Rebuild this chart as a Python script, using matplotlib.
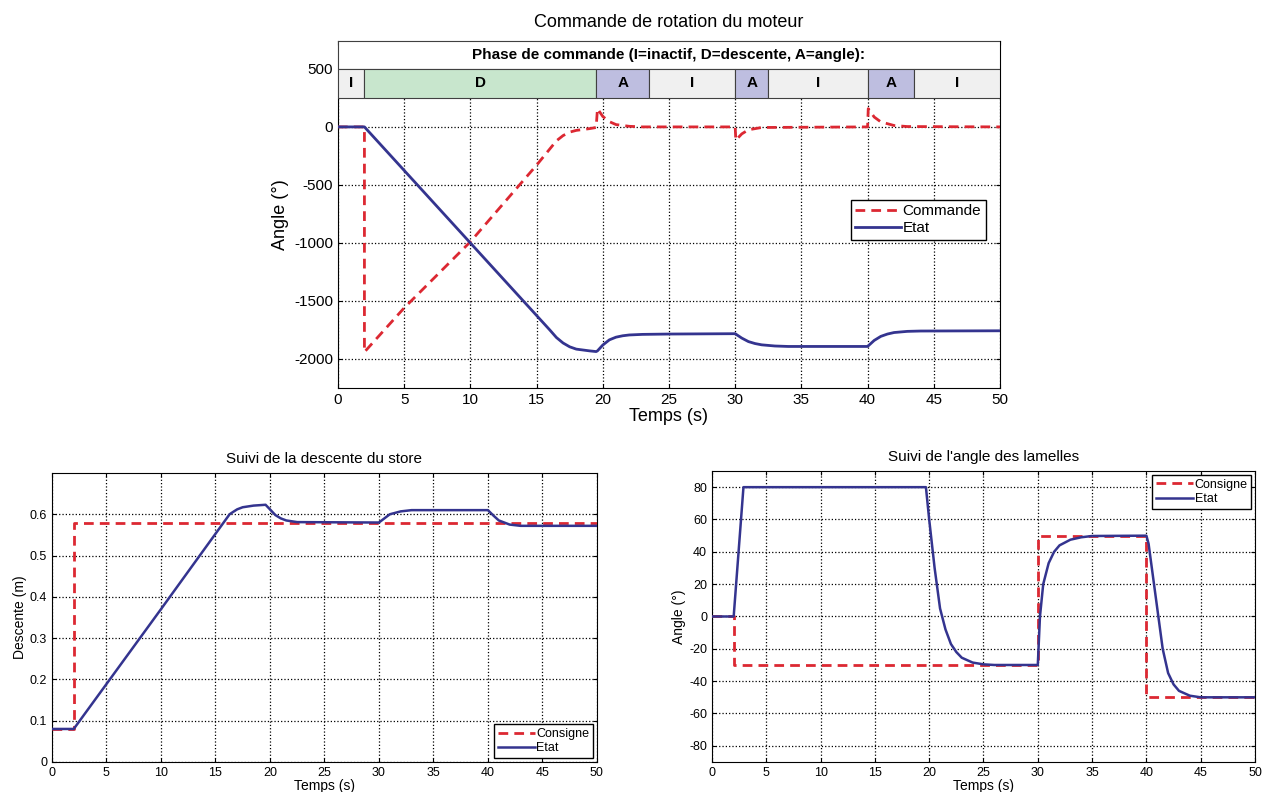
import matplotlib.pyplot as plt
from matplotlib.patches import Rectangle

plt.rcParams['font.family'] = ['Liberation Sans', 'DejaVu Sans']
plt.rcParams['axes.unicode_minus'] = False

# ---- data: motor rotation (top)
t_cmd = [0, 2, 2.0, 5, 10, 15, 16, 16.5, 17, 17.5, 18, 19, 19.5, 19.6, 20, 20.5, 21, 22, 23, 30, 30.05, 30.5, 31,
         32, 40, 40.05, 40.5, 41, 42, 43, 50]
cmd = [0, 0, -1940, -1560, -990, -330, -190, -120, -75, -45, -30, -15, -5, 157, 90, 45, 20, 5, 0, 0, -114, -60, -25,
       -5, 0, 157, 85, 43, 12, 3, 0]
t_etat = [0, 2, 10, 15, 16, 16.5, 17, 17.5, 18, 19, 19.5, 19.6, 20, 20.5, 21, 21.5, 22, 23, 25, 30, 30.5, 31, 31.5,
          32, 33, 34, 40, 40.5, 41, 41.5, 42, 43, 44, 50]
etat = [0, 0, -1000, -1625, -1750, -1815, -1862, -1895, -1915, -1930, -1936, -1930, -1880, -1835, -1812, -1800,
        -1793, -1788, -1785, -1782, -1820, -1850, -1867, -1878, -1888, -1892, -1892, -1840, -1805, -1785, -1772,
        -1762, -1759, -1757]

phase_labels = ['I', 'D', 'A', 'I', 'A', 'I', 'A', 'I']
phase_start = [0, 2, 19.5, 23.5, 30, 32.5, 40, 43.5]
phase_end = [2, 19.5, 23.5, 30, 32.5, 40, 43.5, 50]

# ---- data: blind descent (bottom left)
t_cons_d = [0, 2, 2, 50]
cons_d = [0.08, 0.08, 0.58, 0.58]
t_etat_d = [0, 2, 10, 16.3, 16.7, 17, 17.5, 18.5, 19.6, 20, 20.5, 21, 21.5, 22.5, 30, 30.5, 31, 32, 33, 40, 40.5,
            41, 42, 43, 50]
etat_d = [0.08, 0.08, 0.37, 0.60, 0.607, 0.612, 0.617, 0.621, 0.623, 0.612, 0.598, 0.590, 0.585, 0.581, 0.580,
          0.590, 0.600, 0.607, 0.610, 0.610, 0.597, 0.585, 0.575, 0.572, 0.572]

# ---- data: slat angle (bottom right)
t_cons_a = [0, 2, 2, 30, 30, 40, 40, 50]
cons_a = [0, 0, -30, -30, 50, 50, -50, -50]
t_etat_a = [0, 2, 2.9, 19.7, 20, 20.5, 21, 21.5, 22, 22.5, 23, 24, 25, 26, 30, 30.2, 30.5, 31, 31.5, 32, 33, 34, 35, 40,
            40.2, 40.5, 41, 41.5, 42, 42.5, 43, 44, 45, 50]
etat_a = [0, 0, 80, 80, 60, 30, 5, -8, -17, -22, -25.5, -28.5, -29.6, -30, -30, 0, 20, 33, 40, 44, 47.5, 49, 49.8, 50,
          45, 30, 5, -20, -35, -42, -46, -49, -50, -50]

red = '#dc2832'
blue = '#34348f'


def style(ax, fs):
    ax.grid(True, color='black', linestyle=':', linewidth=0.9)
    ax.tick_params(direction='in', labelsize=fs, top=True, right=True, length=3)
    ax.set_xlim(0, 50)
    ax.set_xticks(range(0, 51, 5))
    for s in ax.spines.values():
        s.set_linewidth(0.8)


fig = plt.figure(figsize=(12.7, 7.92), dpi=100)

# ---- top chart
ax = fig.add_axes([0.2661, 0.5101, 0.5213, 0.4381])
style(ax, 11)
ax.set_ylim(-2250, 740)
ax.set_yticks([-2000, -1500, -1000, -500, 0, 500])
ax.plot(t_cmd, cmd, color=red, linestyle='--', linewidth=2, dashes=(3.5, 2.2), label='Commande', zorder=3)
ax.plot(t_etat, etat, color=blue, linewidth=2, label='Etat', zorder=4)
ax.add_patch(Rectangle((0, 500), 50, 240, facecolor='white', edgecolor='#404040', linewidth=0.8, zorder=5))
ax.text(25, 620, 'Phase de commande (I=inactif, D=descente, A=angle):', ha='center', va='center',
        fontsize=11, fontweight='bold', zorder=6)
colors = {'I': '#f0f0f0', 'D': '#c8e6cd', 'A': '#bebee0'}
for lab, a, b in zip(phase_labels, phase_start, phase_end):
    ax.add_patch(Rectangle((a, 250), b - a, 250, facecolor=colors[lab], edgecolor='#404040',
                           linewidth=0.8, zorder=5))
    ax.text((a + b) / 2, 375, lab, ha='center', va='center', fontsize=11, fontweight='bold', zorder=6)
ax.set_title('Commande de rotation du moteur', fontsize=13, pad=10)
ax.set_xlabel('Temps (s)', fontsize=13, labelpad=1)
ax.set_ylabel('Angle (°)', fontsize=13)
ax.legend(loc='upper right', bbox_to_anchor=(0.99, 0.565), fontsize=11, fancybox=False, edgecolor='black',
          framealpha=1, handlelength=3, handletextpad=0.1, borderpad=0.3, labelspacing=0.2)

# ---- bottom left
ax2 = fig.add_axes([0.0409, 0.0379, 0.4291, 0.3649])
style(ax2, 9)
ax2.set_ylim(0, 0.7)
ax2.set_yticks([0, 0.1, 0.2, 0.3, 0.4, 0.5, 0.6])
ax2.set_yticklabels(['0', '0.1', '0.2', '0.3', '0.4', '0.5', '0.6'])
ax2.plot(t_cons_d, cons_d, color=red, linestyle='--', linewidth=2, dashes=(3.5, 2.2), label='Consigne', zorder=3)
ax2.plot(t_etat_d, etat_d, color=blue, linewidth=1.8, label='Etat', zorder=4)
ax2.set_title('Suivi de la descente du store', fontsize=11, pad=7)
ax2.set_xlabel('Temps (s)', fontsize=10, labelpad=0)
ax2.set_ylabel('Descente (m)', fontsize=10, labelpad=2)
ax2.legend(loc='lower right', fontsize=9, fancybox=False, edgecolor='black', framealpha=1,
           handlelength=3, handletextpad=0.1, borderpad=0.3, labelspacing=0.2, borderaxespad=0.3)

# ---- bottom right
ax3 = fig.add_axes([0.5606, 0.0379, 0.4276, 0.3674])
style(ax3, 9)
ax3.set_ylim(-90, 90)
ax3.set_yticks(range(-80, 81, 20))
ax3.plot(t_cons_a, cons_a, color=red, linestyle='--', linewidth=2, dashes=(3.5, 2.2), label='Consigne', zorder=3)
ax3.plot(t_etat_a, etat_a, color=blue, linewidth=1.8, label='Etat', zorder=4)
ax3.set_title("Suivi de l'angle des lamelles", fontsize=11, pad=7)
ax3.set_xlabel('Temps (s)', fontsize=10, labelpad=0)
ax3.set_ylabel('Angle (°)', fontsize=10, labelpad=2)
ax3.legend(loc='upper right', fontsize=9, fancybox=False, edgecolor='black', framealpha=1,
           handlelength=3, handletextpad=0.1, borderpad=0.3, labelspacing=0.2, borderaxespad=0.3)

fig.savefig('out.png', dpi=100)
